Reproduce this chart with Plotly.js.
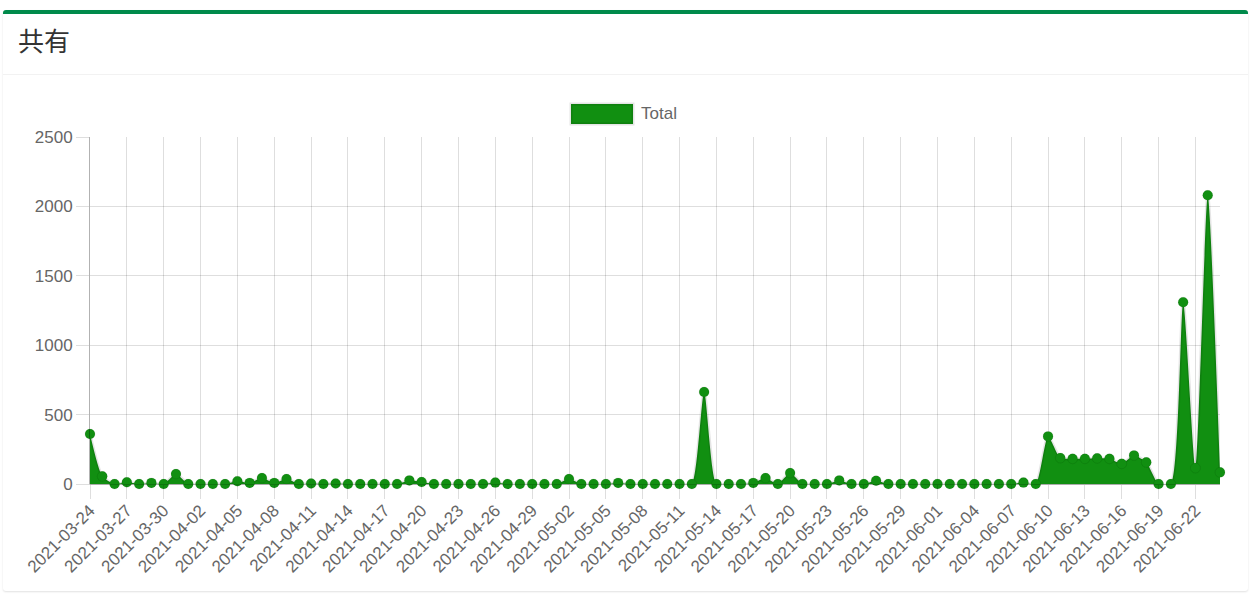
<!DOCTYPE html>
<html>
<head>
<meta charset="utf-8">
<script src="https://cdn.plot.ly/plotly-3.0.1.min.js"></script>
<style>
  html, body { margin: 0; padding: 0; background: #ffffff; width: 1259px; height: 603px; overflow: hidden; }
  #card {
    position: absolute; left: 3px; top: 10px; width: 1245px; height: 577px;
    background: #fff; border-top: 4px solid #008a4b; border-radius: 3px;
    box-shadow: 0 1px 2px rgba(0,0,0,0.12);
  }
  #card-header {
    position: absolute; left: 0; top: 0; width: 100%; height: 60px;
    border-bottom: 1px solid #f2f2f2;
  }
  #card-title {
    position: absolute; left: 15px; top: 9px; font-size: 26px; line-height: 34px;
    color: #333; font-family: "Noto Sans CJK JP", "Noto Sans CJK SC", sans-serif; font-weight: 400;
  }
  #chart { position: absolute; left: 0; top: 0; width: 1259px; height: 603px; }
</style>
</head>
<body>
<div id="card"><div id="card-header"><div id="card-title">共有</div></div></div>
<div id="chart"></div>
<script>
const seriesName = 'Total';
const dates = [
  '2021-03-24','2021-03-25','2021-03-26','2021-03-27','2021-03-28','2021-03-29','2021-03-30','2021-03-31',
  '2021-04-01','2021-04-02','2021-04-03','2021-04-04','2021-04-05','2021-04-06','2021-04-07','2021-04-08',
  '2021-04-09','2021-04-10','2021-04-11','2021-04-12','2021-04-13','2021-04-14','2021-04-15','2021-04-16',
  '2021-04-17','2021-04-18','2021-04-19','2021-04-20','2021-04-21','2021-04-22','2021-04-23','2021-04-24',
  '2021-04-25','2021-04-26','2021-04-27','2021-04-28','2021-04-29','2021-04-30','2021-05-01','2021-05-02',
  '2021-05-03','2021-05-04','2021-05-05','2021-05-06','2021-05-07','2021-05-08','2021-05-09','2021-05-10',
  '2021-05-11','2021-05-12','2021-05-13','2021-05-14','2021-05-15','2021-05-16','2021-05-17','2021-05-18',
  '2021-05-19','2021-05-20','2021-05-21','2021-05-22','2021-05-23','2021-05-24','2021-05-25','2021-05-26',
  '2021-05-27','2021-05-28','2021-05-29','2021-05-30','2021-05-31','2021-06-01','2021-06-02','2021-06-03',
  '2021-06-04','2021-06-05','2021-06-06','2021-06-07','2021-06-08','2021-06-09','2021-06-10','2021-06-11',
  '2021-06-12','2021-06-13','2021-06-14','2021-06-15','2021-06-16','2021-06-17','2021-06-18','2021-06-19',
  '2021-06-20','2021-06-21','2021-06-22','2021-06-23','2021-06-24'
];
const totals = [
  360, 55, 0, 12, 0, 8, 0, 72,
  0, 0, 0, 0, 20, 8, 43, 8,
  36, 0, 3, 0, 3, 0, 0, 0,
  0, 0, 26, 14, 0, 0, 0, 0,
  0, 10, 0, 0, 0, 0, 0, 36,
  0, 0, 0, 8, 0, 0, 0, 0,
  0, 0, 663, 0, 0, 0, 8, 43,
  0, 79, 0, 0, 0, 26, 0, 0,
  24, 0, 0, 0, 0, 0, 0, 0,
  0, 0, 0, 0, 10, 0, 343, 187,
  182, 182, 185, 182, 146, 206, 156, 0,
  0, 1310, 115, 2080, 84
];
const tickDates = dates.filter((d, i) => i % 3 === 0);
const yTicks = [0, 500, 1000, 1500, 2000, 2500];

const green = 'rgb(17,143,17)';
const gridColor = 'rgba(0,0,0,0.13)';
const font = 'Liberation Sans, Arial, Helvetica, sans-serif';

const trace = {
  x: dates, y: totals, type: 'scatter', mode: 'lines+markers', name: seriesName,
  fill: 'tozeroy', fillcolor: green,
  line: { color: 'rgba(0,0,0,0.1)', width: 3, shape: 'spline', smoothing: 0.6 },
  marker: { color: green, size: 10, line: { color: 'rgba(0,0,0,0.08)', width: 1 } },
  showlegend: false, cliponaxis: false
};

const L = 90, R = 1220, T = 137, B = 484, W = 1259, H = 603;
const pw = R - L, ph = B - T;
const px = v => (v - L) / pw;
const py = v => (B - v) / ph;

const layout = {
  width: W, height: H,
  margin: { l: L, r: W - R, t: T, b: H - B, pad: 0 },
  paper_bgcolor: 'rgba(0,0,0,0)', plot_bgcolor: 'rgba(0,0,0,0)',
  font: { family: font, size: 17, color: '#666' },
  hovermode: false,
  xaxis: {
    type: 'category', range: [0, dates.length - 1],
    tickmode: 'array', tickvals: tickDates, ticktext: tickDates,
    tickangle: -45, ticks: 'outside', ticklen: 14, tickcolor: gridColor, tickwidth: 1,
    ticklabelstandoff: -5,
    showgrid: true, gridcolor: gridColor, gridwidth: 1,
    showline: true, linecolor: 'rgba(0,0,0,0.18)', linewidth: 1,
    tickfont: { family: font, size: 17, color: '#666' }, automargin: false, fixedrange: true
  },
  yaxis: {
    range: [0, 2500], tickmode: 'array', tickvals: yTicks,
    ticks: 'outside', ticklen: 13, tickcolor: gridColor, tickwidth: 1,
    showgrid: true, gridcolor: gridColor, gridwidth: 1,
    zeroline: true, zerolinecolor: 'rgba(0,0,0,0.18)', zerolinewidth: 1,
    showline: true, linecolor: 'rgba(0,0,0,0.3)', linewidth: 1,
    tickfont: { family: font, size: 17, color: '#666' }, automargin: false, fixedrange: true
  },
  shapes: [{
    type: 'rect', xref: 'paper', yref: 'paper',
    x0: px(571), x1: px(633), y0: py(124), y1: py(104),
    fillcolor: green, line: { color: 'rgba(0,0,0,0.1)', width: 3 }
  }],
  annotations: [{
    xref: 'paper', yref: 'paper', x: px(639), y: py(114), xanchor: 'left', yanchor: 'middle',
    text: seriesName, showarrow: false, font: { family: font, size: 17, color: '#666' }
  }]
};

Plotly.newPlot('chart', [trace], layout, { displayModeBar: false, staticPlot: true });
</script>
</body>
</html>
